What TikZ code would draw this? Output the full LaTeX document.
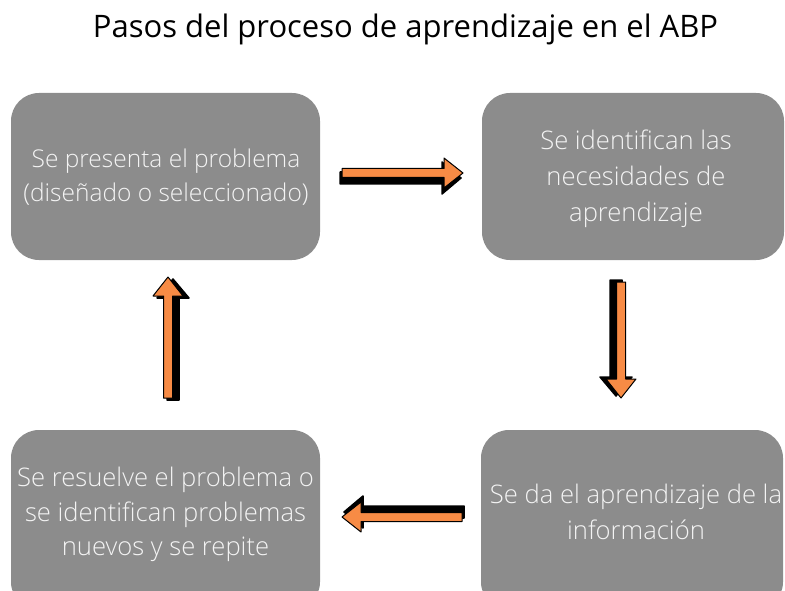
\documentclass[tikz,border=0pt]{standalone}
\usepackage{fontspec}
\setmainfont{Open Sans}
\newfontfamily\lightfont{Open Sans Light}
\usetikzlibrary{calc}
\definecolor{boxgray}{HTML}{8C8C8C}
\definecolor{boxtext}{HTML}{F4F4F4}
\definecolor{arroworange}{HTML}{F78B45}
\tikzset{
  stepbox/.style={fill=boxgray, rounded corners=28pt, inner sep=0pt},
  boxlabel/.style={text=boxtext, align=center, font=\lightfont\fontsize{25.6}{35.5}\selectfont, inner sep=0pt},
  arrowshadow/.style={fill=black, draw=black, line width=1.5pt, line join=round},
  arrowbody/.style={fill=arroworange, draw=black, line width=1pt, line join=round},
}
% #1 start, #2 end, #3 shadow offset
\newcommand{\blockarrow}[3]{%
  \coordinate (n) at ($(#2)!19pt!(#1)$);
  \filldraw[arrowshadow]
    ($(#1)!6pt!90:(#2)+(#3)$) -- ($(n)!6pt!90:(#2)+(#3)$) -- ($(n)!16pt!90:(#2)+(#3)$) --
    ($(#2)+(#3)$) -- ($(n)!16pt!-90:(#2)+(#3)$) -- ($(n)!6pt!-90:(#2)+(#3)$) -- ($(#1)!6pt!-90:(#2)+(#3)$) -- cycle;
  \filldraw[arrowbody]
    ($(#1)!4.5pt!90:(#2)$) -- ($(n)!4.5pt!90:(#2)$) -- ($(n)!15pt!90:(#2)$) --
    (#2) -- ($(n)!15pt!-90:(#2)$) -- ($(n)!4.5pt!-90:(#2)$) -- ($(#1)!4.5pt!-90:(#2)$) -- cycle;
}
\begin{document}
\begin{tikzpicture}[x=1pt,y=-1pt]
\useasboundingbox (0,0) rectangle (785,591);
\clip (0,0) rectangle (785,591);
\node[font=\fontsize{31}{36}\selectfont, text=black, inner sep=0pt] (title) at (405.5,29) {Pasos del proceso de aprendizaje en el ABP};
\node[stepbox, minimum width=309pt, minimum height=167pt] (b1) at (165.5,176.5) {};
\node[stepbox, minimum width=302pt, minimum height=167pt] (b2) at (633,176.5) {};
\node[stepbox, minimum width=302pt, minimum height=180pt] (b3) at (632,520) {};
\node[stepbox, minimum width=309pt, minimum height=180pt] (b4) at (165.5,520) {};
\node[boxlabel, font=\lightfont\fontsize{24.5}{34}\selectfont] (t1) at (166,177) {Se presenta el problema\\(diseñado o seleccionado)};
\node[boxlabel, font=\lightfont\fontsize{25.6}{36}\selectfont] (t2) at (636,178.5) {Se identifican las\\necesidades de\\aprendizaje};
\node[boxlabel] (t3) at (636,512) {Se da el aprendizaje de la\\información};
\node[boxlabel, font=\lightfont\fontsize{25.6}{34.5}\selectfont] (t4) at (165.5,514.5) {Se resuelve el problema o\\se identifican problemas\\nuevos y se repite};
% arrow end points
\coordinate (a1s) at (342,173);
\coordinate (a1e) at (463,173);
\coordinate (a2s) at (621,282);
\coordinate (a2e) at (621,398);
\coordinate (a3s) at (462,517);
\coordinate (a3e) at (342,517);
\coordinate (a4s) at (168,398);
\coordinate (a4e) at (168,277);
\blockarrow{a1s}{a1e}{-2,5}
\blockarrow{a2s}{a2e}{-5,-2}
\blockarrow{a3s}{a3e}{2,-5}
\blockarrow{a4s}{a4e}{5,2}
\end{tikzpicture}
\end{document}
